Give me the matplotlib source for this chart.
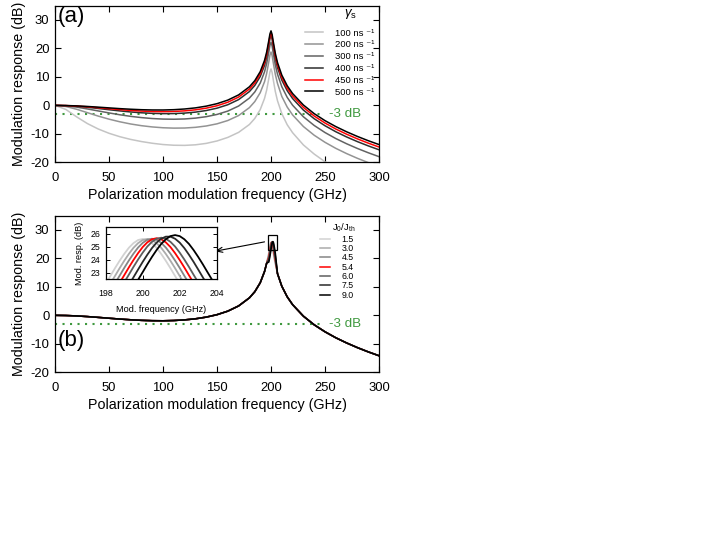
import matplotlib
matplotlib.use('Agg')
import matplotlib.pyplot as plt
from matplotlib.patches import Rectangle

plt.rcParams['font.family'] = ['Liberation Sans', 'DejaVu Sans']
plt.rcParams['mathtext.fontset'] = 'custom'
plt.rcParams['mathtext.rm'] = 'Liberation Sans'
plt.rcParams['mathtext.it'] = 'Liberation Sans:italic'
plt.rcParams['mathtext.bf'] = 'Liberation Sans:bold'
plt.rcParams['axes.unicode_minus'] = False

# ---------------- data: panel (a) ----------------
freq_a = [0, 10, 20, 30, 40, 50, 60, 70, 80, 90, 100, 110, 120, 130, 140, 150, 160, 170, 180,
          185, 190, 194, 196, 198, 199, 200, 201, 202, 204, 206, 210, 215, 220, 230, 240, 250,
          260, 270, 280, 290, 300]
gamma_labels = ['100 ns \u207b\u00b9', '200 ns \u207b\u00b9', '300 ns \u207b\u00b9',
                '400 ns \u207b\u00b9', '450 ns \u207b\u00b9', '500 ns \u207b\u00b9']
resp_g100 = [0, -1.42, -4.03, -6.39, -8.29, -9.80, -11.00, -11.95, -12.70, -13.30, -13.75, -14.00,
             -14.05, -13.85, -13.35, -12.50, -11.25, -9.48, -6.71, -4.59, -1.48, 2.45, 5.40, 9.51,
             11.73, 12.80, 11.57, 9.20, 4.86, 1.64, -2.90, -6.80, -9.60, -13.90, -17.10, -19.80,
             -22.00, -23.60, -25.10, -26.40, -27.60]
resp_g200 = [0, -0.39, -1.36, -2.56, -3.76, -4.84, -5.76, -6.53, -7.13, -7.57, -7.86, -7.99,
             -7.95, -7.71, -7.24, -6.48, -5.32, -3.57, -0.79, 1.34, 4.45, 8.30, 11.25, 15.40,
             17.65, 18.74, 17.53, 15.19, 10.89, 7.71, 3.15, -0.60, -3.36, -7.43, -10.49, -12.97,
             -15.09, -16.93, -18.59, -20.09, -21.47]
resp_g300 = [0, -0.17, -0.61, -1.25, -1.95, -2.65, -3.30, -3.85, -4.29, -4.62, -4.81, -4.87,
             -4.77, -4.48, -3.97, -3.18, -2.00, -0.23, 2.57, 4.71, 7.83, 11.77, 14.73, 18.83,
             21.06, 22.13, 20.90, 18.54, 14.19, 10.98, 6.56, 2.81, 0.05, -4.01, -7.06, -9.54,
             -11.65, -13.48, -15.13, -16.63, -18.01]
resp_g400 = [0, -0.09, -0.32, -0.67, -1.09, -1.53, -1.94, -2.31, -2.60, -2.80, -2.90, -2.88,
             -2.71, -2.37, -1.81, -0.98, 0.23, 2.03, 4.85, 7.00, 10.13, 14.07, 17.04, 21.15,
             23.38, 24.45, 23.22, 20.86, 16.52, 13.32, 8.89, 5.15, 2.40, -1.65, -4.69, -7.15,
             -9.26, -11.09, -12.73, -14.22, -15.59]
resp_g450 = [0, -0.06, -0.24, -0.50, -0.82, -1.16, -1.49, -1.78, -2.00, -2.15, -2.20, -2.13,
             -1.93, -1.56, -0.98, -0.13, 1.10, 2.92, 5.75, 7.90, 11.04, 14.99, 17.95, 22.06,
             24.30, 25.37, 24.14, 21.78, 17.44, 14.24, 9.82, 6.09, 3.34, -0.71, -3.74, -6.20,
             -8.30, -10.12, -11.76, -13.25, -14.62]
resp_g500 = [0, -0.05, -0.18, -0.38, -0.62, -0.88, -1.14, -1.35, -1.52, -1.61, -1.62, -1.51,
             -1.27, -0.88, -0.27, 0.60, 1.85, 3.68, 6.53, 8.69, 11.83, 15.79, 18.75, 22.86,
             25.09, 26.17, 24.94, 22.58, 18.25, 15.05, 10.63, 6.90, 4.15, 0.12, -2.91, -5.36,
             -7.45, -9.27, -10.91, -12.40, -13.76]
resp_a = [resp_g100, resp_g200, resp_g300, resp_g400, resp_g450, resp_g500]
colors_a = ['#c4c4c4', '#939393', '#636363', '#2e2e2e', '#ff0000', '#000000']

# ---------------- data: panel (b) ----------------
j_labels = ['1.5', '3.0', '4.5', '5.4', '6.0', '7.5', '9.0']
freq_b_lo = [0, 10, 20, 30, 40, 50, 60, 70, 80, 90, 100, 110, 120, 130, 140, 150, 160, 170, 180,
             185, 190, 194, 196]
resp_b_lo = [0, -0.06, -0.21, -0.44, -0.72, -1.02, -1.31, -1.56, -1.76, -1.88, -1.91, -1.82,
             -1.60, -1.22, -0.63, 0.23, 1.47, 3.30, 6.14, 8.30, 11.43, 15.39, 18.35]
freq_b_hi = [206, 210, 215, 220, 230, 240, 250, 260, 270, 280, 290, 300]
resp_b_hi = [14.65, 10.22, 6.50, 3.75, -0.30, -3.33, -5.78, -7.88, -9.70, -11.34, -12.83, -14.19]
freq_peak = [198.0, 198.25, 198.5, 198.75, 199.0, 199.25, 199.5, 199.75, 200.0, 200.25, 200.5,
             200.75, 201.0, 201.25, 201.5, 201.75, 202.0, 202.25, 202.5, 202.75, 203.0, 203.25,
             203.5, 203.75, 204.0]
peak_j15 = [22.16, 22.75, 23.35, 23.92, 24.45, 24.92, 25.28, 25.52, 25.60, 25.52, 25.28, 24.92,
            24.45, 23.92, 23.35, 22.75, 22.16, 21.57, 20.99, 20.43, 19.89, 19.37, 18.87, 18.40, 17.94]
peak_j30 = [21.57, 22.16, 22.75, 23.35, 23.92, 24.45, 24.92, 25.28, 25.52, 25.60, 25.52, 25.28,
            24.92, 24.45, 23.92, 23.35, 22.75, 22.16, 21.57, 20.99, 20.43, 19.89, 19.37, 18.87, 18.40]
peak_j45 = [21.01, 21.59, 22.18, 22.77, 23.37, 23.94, 24.47, 24.94, 25.30, 25.54, 25.62, 25.54,
            25.30, 24.94, 24.47, 23.94, 23.37, 22.77, 22.18, 21.59, 21.01, 20.45, 19.91, 19.39, 18.89]
peak_j54 = [20.49, 21.05, 21.63, 22.22, 22.81, 23.41, 23.98, 24.51, 24.98, 25.34, 25.58, 25.66,
            25.58, 25.34, 24.98, 24.51, 23.98, 23.41, 22.81, 22.22, 21.63, 21.05, 20.49, 19.95, 19.43]
peak_j60 = [19.99, 20.53, 21.09, 21.67, 22.26, 22.85, 23.45, 24.02, 24.55, 25.02, 25.38, 25.62,
            25.70, 25.62, 25.38, 25.02, 24.55, 24.02, 23.45, 22.85, 22.26, 21.67, 21.09, 20.53, 19.99]
peak_j75 = [19.32, 19.83, 20.36, 20.91, 21.48, 22.06, 22.65, 23.25, 23.84, 24.39, 24.90, 25.32,
            25.62, 25.78, 25.78, 25.62, 25.32, 24.90, 24.39, 23.84, 23.25, 22.65, 22.06, 21.48, 20.91]
peak_j90 = [18.70, 19.17, 19.67, 20.19, 20.73, 21.29, 21.87, 22.46, 23.05, 23.65, 24.22, 24.75,
            25.22, 25.58, 25.82, 25.90, 25.82, 25.58, 25.22, 24.75, 24.22, 23.65, 23.05, 22.46, 21.87]
peaks_b = [peak_j15, peak_j30, peak_j45, peak_j54, peak_j60, peak_j75, peak_j90]
colors_b = ['#d2d2d2', '#ababab', '#858585', '#ff0000', '#5e5e5e', '#2a2a2a', '#000000']

threshold_db = -3
green = '#3f993f'

# ---------------- figure ----------------
fig = plt.figure(figsize=(7.2, 5.4), dpi=100)
ax_a = fig.add_axes([0.0764, 0.6994, 0.45, 0.29])
ax_b = fig.add_axes([0.0764, 0.3106, 0.45, 0.29])


def style_main(ax):
    ax.set_xlim(0, 300)
    ax.set_ylim(-20, 35)
    ax.set_xticks(range(0, 301, 50))
    ax.set_yticks(range(-20, 31, 10))
    ax.tick_params(direction='in', top=True, right=True, length=4, width=0.8,
                   labelsize=9.4, colors='black')
    ax.tick_params(axis='x', pad=7)
    ax.tick_params(axis='y', pad=4)
    for s in ax.spines.values():
        s.set_linewidth(0.9)
    ax.set_xlabel('Polarization modulation frequency (GHz)', fontsize=10.3, labelpad=3)
    ax.set_ylabel('Modulation response (dB)', fontsize=10.3, labelpad=3)
    ax.axhline(threshold_db, xmin=0, xmax=0.83, color=green, lw=1.5,
               linestyle=(0, (1, 2.6)))
    ax.text(254, threshold_db, '-3 dB', color=green, fontsize=9.6, va='center', ha='left')


style_main(ax_a)
style_main(ax_b)

# panel (a)
for lab, resp, col in zip(gamma_labels, resp_a, colors_a):
    ax_a.plot(freq_a, resp, color=col, lw=1.1, label=lab)
ax_a.text(2, 31.3, '(a)', fontsize=16, va='center', ha='left')
ax_a.text(0.913, 0.945, '$\\gamma_{\\rm s}$', transform=ax_a.transAxes, fontsize=9.5,
          ha='center', va='center')
ax_a.legend(loc='upper left', bbox_to_anchor=(0.772, 0.854), frameon=False, fontsize=6.8,
            handlelength=1.9, handletextpad=1.3, labelspacing=0.30, borderpad=0,
            borderaxespad=0)

# panel (b)
for lab, pk, col in zip(j_labels, peaks_b, colors_b):
    ax_b.plot(freq_b_lo + freq_peak + freq_b_hi, resp_b_lo + pk + resp_b_hi,
              color=col, lw=1.1, label=lab)
ax_b.text(2, -9.0, '(b)', fontsize=16, va='center', ha='left')
ax_b.text(0.89, 0.92, 'J$_0$/J$_{\\rm th}$', transform=ax_b.transAxes, fontsize=6.8,
          ha='center', va='center')
ax_b.legend(loc='upper left', bbox_to_anchor=(0.818, 0.878), frameon=False, fontsize=6.3,
            handlelength=1.15, handletextpad=1.3, labelspacing=0.035, borderpad=0,
            borderaxespad=0)
ax_b.add_patch(Rectangle((196.8, 23.0), 8.6, 5.1, fill=False, lw=0.9, ec='black', zorder=5))
ax_b.annotate('', xy=(148, 22.5), xytext=(194, 25.8),
              arrowprops=dict(arrowstyle='->,head_length=0.45,head_width=0.18', lw=0.8,
                              color='black', shrinkA=0, shrinkB=0))

# inset
ins = fig.add_axes([0.1468, 0.4828, 0.1542, 0.0963])
ins.set_facecolor('white')
for pk, col in zip(peaks_b, colors_b):
    ins.plot(freq_peak, pk, color=col, lw=1.3)
ins.set_xlim(198, 204)
ins.set_ylim(22.5, 26.5)
ins.set_xticks([198, 200, 202, 204])
ins.set_yticks([23, 24, 25, 26])
ins.tick_params(direction='in', top=True, right=True, length=3, width=0.7, labelsize=6.3)
ins.tick_params(axis='x', pad=7)
ins.tick_params(axis='y', pad=3.5)
for s in ins.spines.values():
    s.set_linewidth(0.9)
ins.set_xlabel('Mod. frequency (GHz)', fontsize=6.6, labelpad=5)
ins.set_ylabel('Mod. resp. (dB)', fontsize=6.6, labelpad=5)

fig.savefig('out.png', dpi=100)
